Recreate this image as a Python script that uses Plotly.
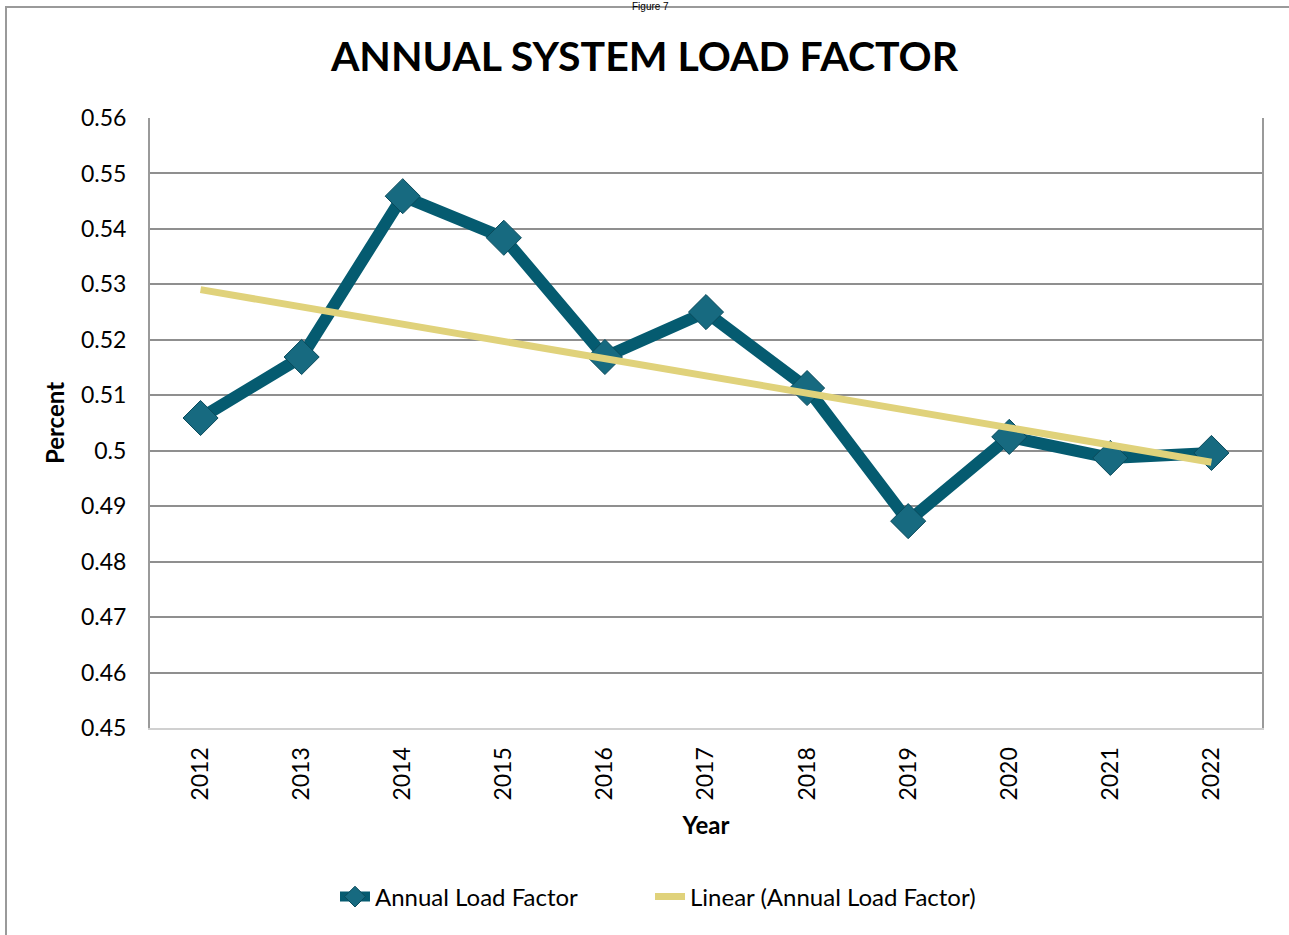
import numpy as np
import plotly.graph_objects as go

years = ["2012", "2013", "2014", "2015", "2016", "2017", "2018", "2019", "2020", "2021", "2022"]
load_factor = [0.5059, 0.5169, 0.5459, 0.5384, 0.5169, 0.5250, 0.5113, 0.4873, 0.5025, 0.4987, 0.4996]
y_ticks = [0.45, 0.46, 0.47, 0.48, 0.49, 0.5, 0.51, 0.52, 0.53, 0.54, 0.55, 0.56]
y_tick_labels = ["0.45", "0.46", "0.47", "0.48", "0.49", "0.5", "0.51", "0.52", "0.53", "0.54", "0.55", "0.56"]

idx = np.arange(len(years))
slope, intercept = np.polyfit(idx, load_factor, 1)
trend = list(intercept + slope * idx)

FONT = "Lato"
W, H = 1289, 935
L, R, T, B = 150, 27, 118, 207
pw, ph = W - L - R, H - T - B

def px_x(x):
    return (x - L) / pw

def px_y(y):
    return (H - B - y) / ph

fig = go.Figure()
fig.add_trace(go.Scatter(
    x=years, y=load_factor, mode="lines+markers", name="Annual Load Factor",
    line=dict(color="#055b70", width=12), legend="legend",
    marker=dict(symbol="diamond", size=27, color="#176a80", line=dict(color="#0a4b5c", width=1)),
))
fig.add_trace(go.Scatter(
    x=years, y=trend, mode="lines", name="Linear (Annual Load Factor)",
    line=dict(color="#e0d27b", width=7), legend="legend2",
))

legend_common = dict(orientation="h", xanchor="left", y=px_y(897), yanchor="middle",
                     font=dict(size=24, family=FONT), bgcolor="rgba(0,0,0,0)")

fig.update_layout(
    width=W, height=H,
    margin=dict(l=L, r=R, t=T, b=B),
    paper_bgcolor="white", plot_bgcolor="white",
    font=dict(family=FONT, color="black", size=23),
    title=dict(text="<b>ANNUAL SYSTEM LOAD FACTOR</b>", x=0.5, xanchor="center",
               y=1 - 57 / H, yanchor="middle", font=dict(size=41, family=FONT, color="black")),
    showlegend=True,
    legend=dict(x=px_x(335), **legend_common),
    legend2=dict(x=px_x(650), **legend_common),
    xaxis=dict(type="category", range=[-0.5, len(years) - 0.5], showgrid=False,
               showline=True, linecolor="#d0d0d0", linewidth=2,
               tickangle=-90, ticks="", tickfont=dict(size=23), ticklabelstandoff=8,
               title=dict(text="<b>Year</b>", font=dict(size=24), standoff=18)),
    yaxis=dict(range=[0.45, 0.56], tickvals=y_ticks, ticktext=y_tick_labels,
               showgrid=True, gridcolor="#8f8f8f", gridwidth=2,
               showline=True, linecolor="#9a9a9a", linewidth=2, mirror=True,
               ticks="", ticklen=0, tickfont=dict(size=23), zeroline=False, ticklabelstandoff=17,
               title=dict(text="<b>Percent</b>", font=dict(size=24), standoff=10)),
    shapes=[dict(type="rect", xref="paper", yref="paper",
                 x0=px_x(6), x1=px_x(1300), y0=px_y(945), y1=px_y(7),
                 line=dict(color="#9a9a9a", width=2), fillcolor="rgba(0,0,0,0)", layer="below")],
    annotations=[dict(text="Figure 7", xref="paper", yref="paper", x=px_x(650), y=px_y(6),
                      xanchor="center", yanchor="middle", showarrow=False,
                      font=dict(size=10, family="Liberation Sans", color="black"))],
)

fig.write_html("out.html", config={"displayModeBar": False},
               post_script="document.body.style.margin='0';")
